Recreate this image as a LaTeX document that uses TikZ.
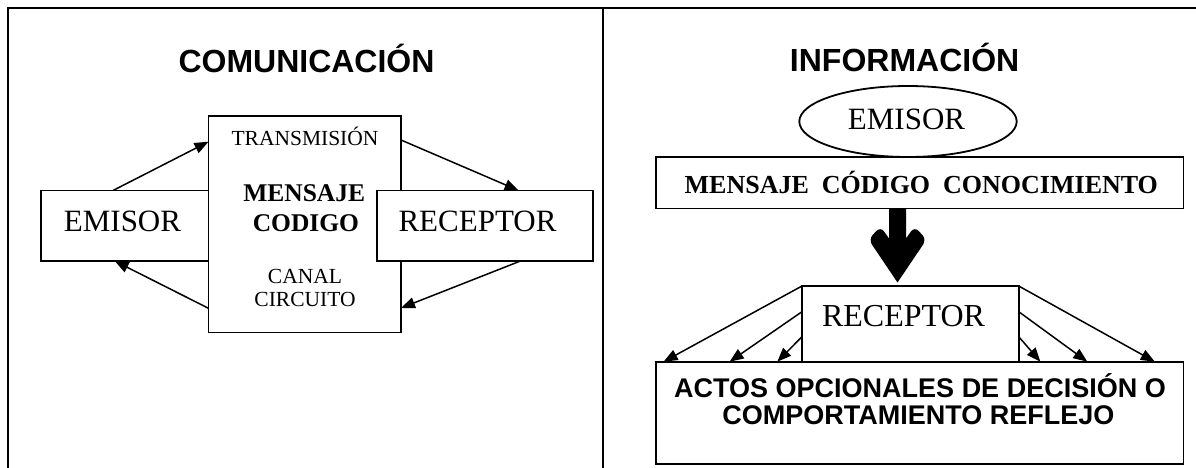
\documentclass[tikz,border=0pt]{standalone}
\usepackage{fontspec}
\setmainfont{Liberation Serif}
\newfontfamily\arl{Liberation Sans}
\usetikzlibrary{arrows.meta,shapes.geometric}
\begin{document}
\begin{tikzpicture}[x=1pt,y=-1pt,
  box/.style={draw, line width=1.8pt, fill=white, inner sep=0pt, outer sep=0pt},
  lbl/.style={anchor=base, inner sep=0pt, outer sep=0pt},
  arr/.style={line width=1.5pt, -{Triangle[length=14pt,width=11pt]}},
  frame/.style={line width=2.8pt},
  ttl/.style={lbl, font=\arl\bfseries\fontsize{32}{32}\selectfont},
  big/.style={lbl, font=\fontsize{31}{31}\selectfont},
  small/.style={lbl, font=\fontsize{21.5}{21.5}\selectfont},
  bsmall/.style={lbl, font=\bfseries\fontsize{25.5}{25.5}\selectfont},
  act/.style={lbl, font=\arl\bfseries\fontsize{27}{27}\selectfont}
]
\useasboundingbox (0,0) rectangle (1196,468);
\fill[white] (0,0) rectangle (1196,468);
% frame
\draw[frame] (8,475) -- (8,8) -- (1205,8);
\draw[frame] (603,8) -- (603,475);

% ---------- left panel ----------
\node[ttl] (tC) at (306.5,73) {COMUNICACIÓN};
\node[box, minimum width=192.5pt, minimum height=216.5pt] (cbox) at (304.75,224.25) {};
\node[box, minimum width=167.8pt, minimum height=70.5pt] (emL) at (124.6,225.75) {};
\node[box, minimum width=216pt, minimum height=70.5pt] (reL) at (485,225.75) {};
\node[small] (trans) at (305,146) {TRANSMISIÓN};
\node[bsmall] (msj) at (304.2,201) {MENSAJE};
\node[bsmall] (cod) at (305.9,231) {CODIGO};
\node[small] (canal) at (305,283) {CANAL};
\node[small] (circ) at (305,306.5) {CIRCUITO};
\node[big] (emLt) at (122.5,231.5) {EMISOR};
\node[big] (reLt) at (477.5,231.5) {RECEPTOR};

\draw[arr] ([xshift=72.3pt]emL.north west) -- ([yshift=-25.7pt]cbox.north west);
\draw[arr] ([yshift=-24pt]cbox.north east) -- ([xshift=141.6pt]reL.north west);
\draw[arr] ([xshift=143.5pt]reL.south west) -- ([yshift=24.5pt]cbox.south east);
\draw[arr] ([yshift=24.2pt]cbox.south west) -- ([xshift=74pt]emL.south west);

% ---------- right panel ----------
\node[ttl] (tI) at (904.6,72) {INFORMACIÓN};
\node[draw, line width=1.8pt, ellipse, inner sep=0pt, minimum width=217.4pt, minimum height=71pt] (ell) at (908,121.5) {};
\node[big] (emRt) at (906.5,129.3) {EMISOR};
\node[box, minimum width=527.5pt, minimum height=51.2pt] (mcc) at (919.75,182.9) {};
\node[lbl, font=\bfseries\fontsize{26}{26}\selectfont] (mcct) at (921.3,193.3) {MENSAJE\ \ CÓDIGO\ \ CONOCIMIENTO};
\node[box, minimum width=216.7pt, minimum height=75.7pt] (reR) at (910.35,323.85) {};
\node[lbl, font=\fontsize{32}{32}\selectfont] (reRt) at (903.5,326) {RECEPTOR};
\node[box, minimum width=527.5pt, minimum height=102pt] (actos) at (919.75,412.7) {};
\node[act] (act1) at (920,397) {ACTOS OPCIONALES DE DECISIÓN O};
\node[act] (act2) at (918.4,424.5) {COMPORTAMIENTO REFLEJO};

% thick arrow from mcc to reR
\coordinate (ta) at ([xshift=-22.25pt]mcc.south);
\begin{scope}[shift={(ta)}]
\fill (-8.5,0) -- (8.5,0) -- (8.5,30) [rounded corners=6pt] -- (17,18) -- (29,31) [sharp corners] -- (0,74) [rounded corners=6pt] -- (-29,31) -- (-17,18) [sharp corners] -- (-8.5,30) -- cycle;
\end{scope}

% small arrows
\draw[arr] (reR.north west) -- ([xshift=7.6pt]actos.north west);
\draw[arr] ([yshift=-25.7pt]reR.north west) -- ([xshift=73.6pt]actos.north west);
\draw[arr] ([yshift=-50.7pt]reR.north west) -- ([xshift=121.3pt]actos.north west);
\draw[arr] ([yshift=-50.7pt]reR.north east) -- ([xshift=384.4pt]actos.north west);
\draw[arr] ([yshift=-25.7pt]reR.north east) -- ([xshift=431.3pt]actos.north west);
\draw[arr] (reR.north east) -- ([xshift=498.8pt]actos.north west);
\end{tikzpicture}
\end{document}
